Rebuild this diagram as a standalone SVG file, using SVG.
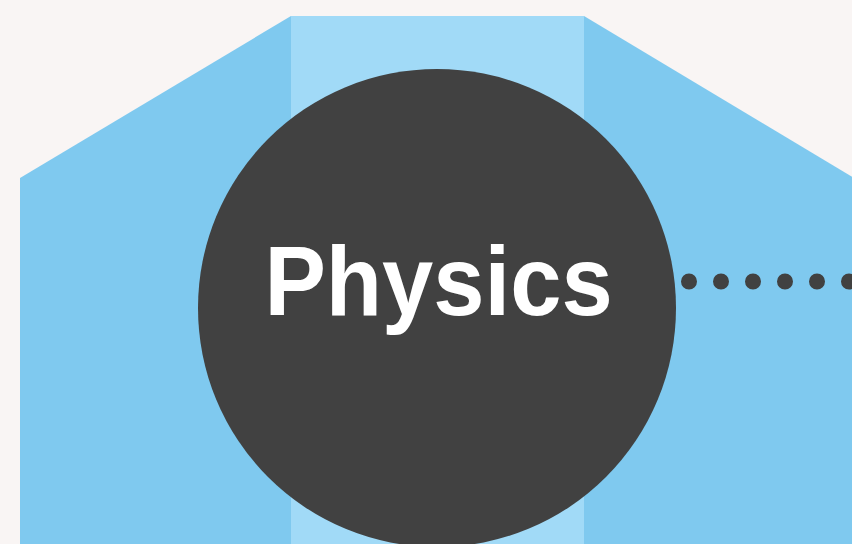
<svg xmlns="http://www.w3.org/2000/svg" width="852" height="544" viewBox="0 0 852 544">
<style>
.bg{fill:#f9f5f4}
.band{fill:#7fc9ef}
.strip{fill:#a1daf7}
.hub{fill:#414141}
.lbl{font-family:"Liberation Sans",Arial,sans-serif;font-weight:bold;font-size:98px;fill:#ffffff}
.dots{stroke:#414141;stroke-width:16;stroke-linecap:round;stroke-dasharray:0 32;fill:none}
</style>
<rect class="bg" x="0" y="0" width="852" height="544"/>
<g id="background-shape">
<polygon class="band" points="20,178 291,16 584,16 854,178 854,544 20,544"/>
<rect class="strip" x="291" y="16" width="293" height="528"/>
</g>
<g id="connectors">
<line class="dots" x1="689" y1="281.5" x2="870" y2="281.5"/>
</g>
<g id="physics">
<circle class="hub" cx="437" cy="308" r="239"/>
<text class="lbl" transform="translate(438.5,314.5) scale(0.94,1)" x="0" y="0" text-anchor="middle">Physics</text>
</g>
</svg>
